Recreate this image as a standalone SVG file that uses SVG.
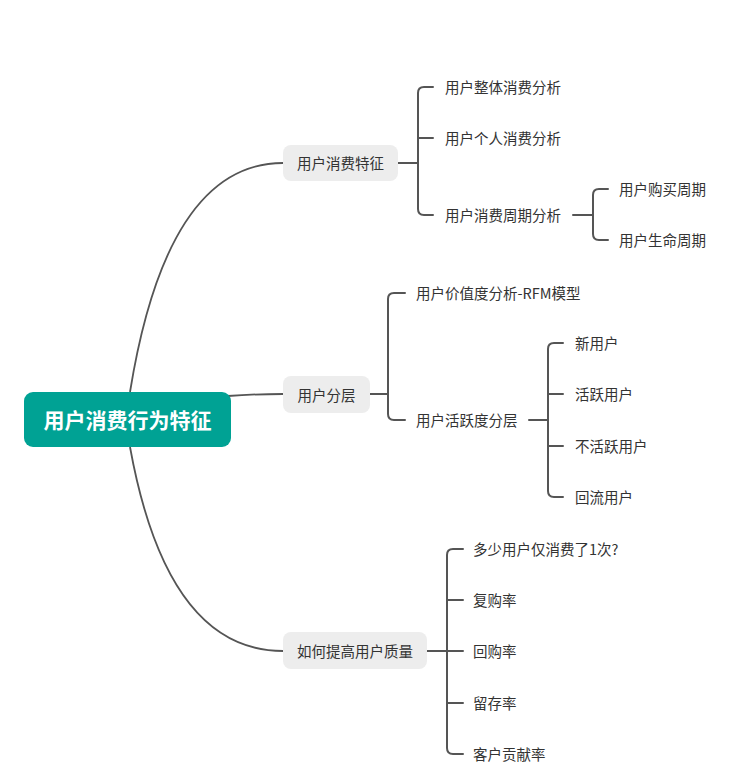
<svg xmlns="http://www.w3.org/2000/svg" width="741" height="771" viewBox="0 0 741 771">
<style>
.t{font-family:"Microsoft YaHei","Noto Sans CJK SC","Noto Sans",sans-serif;font-size:14.5px;fill:#333;dominant-baseline:central}
.m{text-anchor:middle}
.n{fill:#ededed}
.c{fill:none;stroke:#555;stroke-width:2;stroke-linecap:round;stroke-linejoin:round}
.r{fill:none;stroke:#555;stroke-width:1.8}
</style>
<rect width="741" height="771" fill="#fff"/>
<g id="connectors">
<path class="r" d="M130,392 Q167,163 283,163"/>
<path class="r" d="M228,396 Q255,394 283,394"/>
<path class="r" d="M130,447 Q167,651 283,651"/>
<path class="c" d="M398,163 H418 M433,87 H424 Q418,87 418,93 V209 Q418,215 424,215 H433 M418,138 H433"/>
<path class="c" d="M573,215 H593 M608,189 H599 Q593,189 593,195 V234 Q593,240 599,240 H608"/>
<path class="c" d="M370,394 H388 M405,293 H394 Q388,293 388,299 V414 Q388,420 394,420 H405"/>
<path class="c" d="M529,420 H548 M563,343 H554 Q548,343 548,349 V491 Q548,497 554,497 H563 M548,394 H563 M548,446 H563"/>
<path class="c" d="M427,651 H463 M463,549 H453 Q447,549 447,555 V748 Q447,754 453,754 H463 M447,600 H463 M447,703 H463"/>
</g>
<g id="root">
<rect x="24" y="392" width="207" height="55" rx="9" fill="#00a294"/>
<text class="t m" x="127.5" y="419" style="font-size:21px;font-weight:bold;fill:#fff">用户消费行为特征</text>
</g>
<g id="n1">
<rect class="n" x="283" y="145" width="115" height="36" rx="8"/>
<text class="t m" x="340.5" y="162.5">用户消费特征</text>
</g>
<g id="n1a"><text class="t" x="445" y="86.5">用户整体消费分析</text></g>
<g id="n1b"><text class="t" x="445" y="137.5">用户个人消费分析</text></g>
<g id="n1c"><text class="t" x="445" y="214.5">用户消费周期分析</text></g>
<g id="n1c1"><text class="t" x="619" y="188.5">用户购买周期</text></g>
<g id="n1c2"><text class="t" x="619" y="239.5">用户生命周期</text></g>
<g id="n2">
<rect class="n" x="283" y="376" width="87" height="37" rx="8"/>
<text class="t m" x="326.5" y="394">用户分层</text>
</g>
<g id="n2a"><text class="t" x="416" y="292.5">用户价值度分析-RFM模型</text></g>
<g id="n2b"><text class="t" x="416" y="419.5">用户活跃度分层</text></g>
<g id="n2b1"><text class="t" x="575" y="342.5">新用户</text></g>
<g id="n2b2"><text class="t" x="575" y="393.5">活跃用户</text></g>
<g id="n2b3"><text class="t" x="575" y="445.5">不活跃用户</text></g>
<g id="n2b4"><text class="t" x="575" y="496.5">回流用户</text></g>
<g id="n3">
<rect class="n" x="283" y="632" width="144" height="37" rx="8"/>
<text class="t m" x="355" y="650">如何提高用户质量</text>
</g>
<g id="n3a"><text class="t" x="473" y="548.5">多少用户仅消费了1次?</text></g>
<g id="n3b"><text class="t" x="473" y="599.5">复购率</text></g>
<g id="n3c"><text class="t" x="473" y="650.5">回购率</text></g>
<g id="n3d"><text class="t" x="473" y="702.5">留存率</text></g>
<g id="n3e"><text class="t" x="473" y="753.5">客户贡献率</text></g>
</svg>
